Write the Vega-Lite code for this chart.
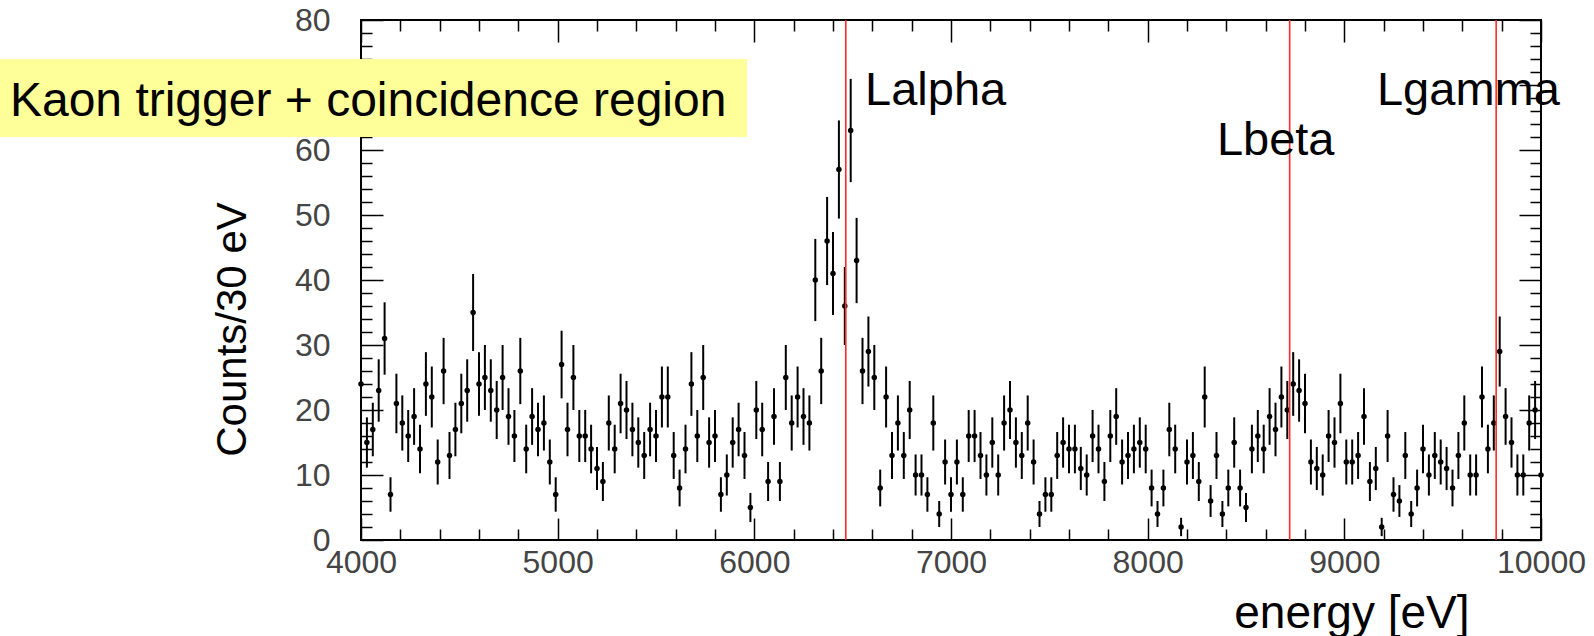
{
"$schema": "https://vega.github.io/schema/vega-lite/v6.json",
"width": 1180, "height": 520,
"autosize": {"type": "none"},
"padding": {"left": 361, "top": 20, "right": 53, "bottom": 96},
"background": "white",
"config": {"view": {"stroke": "black", "strokeWidth": 2}, "axis": {"grid": false, "domain": false, "labelFont": "Liberation Sans", "titleFont": "Liberation Sans", "tickColor": "black", "tickWidth": 1.5, "labelFlush": false, "labelOverlap": false, "labelBound": false}},
"datasets": {
"h": [
{"E":4000,"n":24,"e":4.9},{"E":4030,"n":15,"e":3.87},{"E":4060,"n":17,"e":4.12},{"E":4090,"n":23,"e":4.8},{"E":4120,"n":31,"e":5.57},
{"E":4150,"n":7,"e":2.65},{"E":4180,"n":21,"e":4.58},{"E":4210,"n":18,"e":4.24},{"E":4240,"n":16,"e":4},{"E":4270,"n":19,"e":4.36},
{"E":4300,"n":14,"e":3.74},{"E":4330,"n":24,"e":4.9},{"E":4360,"n":22,"e":4.69},{"E":4390,"n":12,"e":3.46},{"E":4420,"n":26,"e":5.1},
{"E":4450,"n":13,"e":3.61},{"E":4480,"n":17,"e":4.12},{"E":4510,"n":21,"e":4.58},{"E":4540,"n":23,"e":4.8},{"E":4570,"n":35,"e":5.92},
{"E":4600,"n":24,"e":4.9},{"E":4630,"n":25,"e":5},{"E":4660,"n":23,"e":4.8},{"E":4690,"n":20,"e":4.47},{"E":4720,"n":25,"e":5},
{"E":4750,"n":19,"e":4.36},{"E":4780,"n":16,"e":4},{"E":4810,"n":26,"e":5.1},{"E":4840,"n":14,"e":3.74},{"E":4870,"n":19,"e":4.36},
{"E":4900,"n":17,"e":4.12},{"E":4930,"n":18,"e":4.24},{"E":4960,"n":12,"e":3.46},{"E":4990,"n":7,"e":2.65},{"E":5020,"n":27,"e":5.2},
{"E":5050,"n":17,"e":4.12},{"E":5080,"n":25,"e":5},{"E":5110,"n":16,"e":4},{"E":5140,"n":16,"e":4},{"E":5170,"n":14,"e":3.74},
{"E":5200,"n":11,"e":3.32},{"E":5230,"n":9,"e":3},{"E":5260,"n":18,"e":4.24},{"E":5290,"n":14,"e":3.74},{"E":5320,"n":21,"e":4.58},
{"E":5350,"n":20,"e":4.47},{"E":5380,"n":17,"e":4.12},{"E":5410,"n":15,"e":3.87},{"E":5440,"n":13,"e":3.61},{"E":5470,"n":17,"e":4.12},
{"E":5500,"n":16,"e":4},{"E":5530,"n":22,"e":4.69},{"E":5560,"n":22,"e":4.69},{"E":5590,"n":13,"e":3.61},{"E":5620,"n":8,"e":2.83},
{"E":5650,"n":14,"e":3.74},{"E":5680,"n":24,"e":4.9},{"E":5710,"n":16,"e":4},{"E":5740,"n":25,"e":5},{"E":5770,"n":15,"e":3.87},
{"E":5800,"n":16,"e":4},{"E":5830,"n":7,"e":2.65},{"E":5860,"n":10,"e":3.16},{"E":5890,"n":15,"e":3.87},{"E":5920,"n":17,"e":4.12},
{"E":5950,"n":13,"e":3.61},{"E":5980,"n":5,"e":2.24},{"E":6010,"n":20,"e":4.47},{"E":6040,"n":17,"e":4.12},{"E":6070,"n":9,"e":3},
{"E":6100,"n":19,"e":4.36},{"E":6130,"n":9,"e":3},{"E":6160,"n":25,"e":5},{"E":6190,"n":18,"e":4.24},{"E":6220,"n":22,"e":4.69},
{"E":6250,"n":19,"e":4.36},{"E":6280,"n":18,"e":4.24},{"E":6310,"n":40,"e":6.32},{"E":6340,"n":26,"e":5.1},{"E":6370,"n":46,"e":6.78},
{"E":6400,"n":41,"e":6.4},{"E":6430,"n":57,"e":7.55},{"E":6460,"n":36,"e":6},{"E":6490,"n":63,"e":7.94},{"E":6520,"n":43,"e":6.56},
{"E":6550,"n":26,"e":5.1},{"E":6580,"n":29,"e":5.39},{"E":6610,"n":25,"e":5},{"E":6640,"n":8,"e":2.83},{"E":6670,"n":22,"e":4.69},
{"E":6700,"n":13,"e":3.61},{"E":6730,"n":18,"e":4.24},{"E":6760,"n":13,"e":3.61},{"E":6790,"n":20,"e":4.47},{"E":6820,"n":10,"e":3.16},
{"E":6850,"n":10,"e":3.16},{"E":6880,"n":7,"e":2.65},{"E":6910,"n":18,"e":4.24},{"E":6940,"n":4,"e":2},{"E":6970,"n":12,"e":3.46},
{"E":7000,"n":7,"e":2.65},{"E":7030,"n":12,"e":3.46},{"E":7060,"n":7,"e":2.65},{"E":7090,"n":16,"e":4},{"E":7120,"n":16,"e":4},
{"E":7150,"n":13,"e":3.61},{"E":7180,"n":10,"e":3.16},{"E":7210,"n":15,"e":3.87},{"E":7240,"n":10,"e":3.16},{"E":7270,"n":18,"e":4.24},
{"E":7300,"n":20,"e":4.47},{"E":7330,"n":15,"e":3.87},{"E":7360,"n":13,"e":3.61},{"E":7390,"n":18,"e":4.24},{"E":7420,"n":12,"e":3.46},
{"E":7450,"n":4,"e":2},{"E":7480,"n":7,"e":2.65},{"E":7510,"n":7,"e":2.65},{"E":7540,"n":13,"e":3.61},{"E":7570,"n":15,"e":3.87},
{"E":7600,"n":14,"e":3.74},{"E":7630,"n":14,"e":3.74},{"E":7660,"n":11,"e":3.32},{"E":7690,"n":10,"e":3.16},{"E":7720,"n":16,"e":4},
{"E":7750,"n":14,"e":3.74},{"E":7780,"n":9,"e":3},{"E":7810,"n":16,"e":4},{"E":7840,"n":19,"e":4.36},{"E":7870,"n":12,"e":3.46},
{"E":7900,"n":13,"e":3.61},{"E":7930,"n":14,"e":3.74},{"E":7960,"n":15,"e":3.87},{"E":7990,"n":14,"e":3.74},{"E":8020,"n":8,"e":2.83},
{"E":8050,"n":4,"e":2},{"E":8080,"n":8,"e":2.83},{"E":8110,"n":17,"e":4.12},{"E":8140,"n":14,"e":3.74},{"E":8170,"n":2,"e":1.41},
{"E":8200,"n":12,"e":3.46},{"E":8230,"n":13,"e":3.61},{"E":8260,"n":9,"e":3},{"E":8290,"n":22,"e":4.69},{"E":8320,"n":6,"e":2.45},
{"E":8350,"n":13,"e":3.61},{"E":8380,"n":4,"e":2},{"E":8410,"n":8,"e":2.83},{"E":8440,"n":15,"e":3.87},{"E":8470,"n":8,"e":2.83},
{"E":8500,"n":5,"e":2.24},{"E":8530,"n":14,"e":3.74},{"E":8560,"n":16,"e":4},{"E":8590,"n":14,"e":3.74},{"E":8620,"n":19,"e":4.36},
{"E":8650,"n":17,"e":4.12},{"E":8680,"n":22,"e":4.69},{"E":8710,"n":20,"e":4.47},{"E":8740,"n":24,"e":4.9},{"E":8770,"n":23,"e":4.8},
{"E":8800,"n":21,"e":4.58},{"E":8830,"n":12,"e":3.46},{"E":8860,"n":11,"e":3.32},{"E":8890,"n":10,"e":3.16},{"E":8920,"n":16,"e":4},
{"E":8950,"n":15,"e":3.87},{"E":8980,"n":21,"e":4.58},{"E":9010,"n":12,"e":3.46},{"E":9040,"n":12,"e":3.46},{"E":9070,"n":13,"e":3.61},
{"E":9100,"n":19,"e":4.36},{"E":9130,"n":9,"e":3},{"E":9160,"n":11,"e":3.32},{"E":9190,"n":2,"e":1.41},{"E":9220,"n":16,"e":4},
{"E":9250,"n":7,"e":2.65},{"E":9280,"n":6,"e":2.45},{"E":9310,"n":13,"e":3.61},{"E":9340,"n":4,"e":2},{"E":9370,"n":8,"e":2.83},
{"E":9400,"n":14,"e":3.74},{"E":9430,"n":10,"e":3.16},{"E":9460,"n":13,"e":3.61},{"E":9490,"n":12,"e":3.46},{"E":9520,"n":11,"e":3.32},
{"E":9550,"n":8,"e":2.83},{"E":9580,"n":13,"e":3.61},{"E":9610,"n":18,"e":4.24},{"E":9640,"n":10,"e":3.16},{"E":9670,"n":10,"e":3.16},
{"E":9700,"n":22,"e":4.69},{"E":9730,"n":14,"e":3.74},{"E":9760,"n":18,"e":4.24},{"E":9790,"n":29,"e":5.39},{"E":9820,"n":19,"e":4.36},
{"E":9850,"n":15,"e":3.87},{"E":9880,"n":10,"e":3.16},{"E":9910,"n":10,"e":3.16},{"E":9940,"n":18,"e":4.24},{"E":9970,"n":20,"e":4.47},
{"E":10000,"n":10,"e":3.16}
],
"lines": [{"line":"Lalpha","E":6465},{"line":"Lbeta","E":8722},{"line":"Lgamma","E":9772}],
"one": [{"k": 1}]
},
"data": {"name": "h"},
"resolve": {"axis": {"x": "independent", "y": "independent"}},
"layer": [
{"mark": {"type": "errorbar", "color": "black", "thickness": 2},
 "encoding": {"x": {"field": "E", "type": "quantitative", "axis": null, "scale": {"domain": [4000, 10000], "nice": false, "zero": false}},
  "y": {"field": "n", "type": "quantitative", "axis": null, "scale": {"domain": [0, 80], "nice": false}},
  "yError": {"field": "e"}}},
{"mark": {"type": "point", "filled": true, "size": 30, "color": "black", "opacity": 1},
 "encoding": {"x": {"field": "E", "type": "quantitative", "scale": {"domain": [4000, 10000], "nice": false, "zero": false},
   "axis": {"orient": "bottom", "values": [4000,5000,6000,7000,8000,9000,10000], "format": "d", "tickSize": -22, "labelPadding": 29, "labelFontSize": 32, "labelColor": "#444", "title": "energy [eV]", "titleFontSize": 46, "titleFontWeight": "normal", "titleColor": "black", "titleX": 1108, "titleY": 87, "titleAlign": "right", "titleBaseline": "alphabetic"}},
  "y": {"field": "n", "type": "quantitative", "scale": {"domain": [0, 80], "nice": false},
   "axis": {"orient": "left", "values": [0,10,20,30,40,50,60,70,80], "format": "d", "tickSize": -22, "labelPadding": 53, "labelFontSize": 32, "labelColor": "#444", "title": "Counts/30 eV", "titleFontSize": 42, "titleFontWeight": "normal", "titleColor": "black", "titleX": -129, "titleY": 309, "titleAngle": -90, "titleAlign": "center", "titleBaseline": "middle"}}}},
{"mark": {"type": "point", "opacity": 0},
 "encoding": {"x": {"field": "E", "type": "quantitative", "axis": {"orient": "bottom", "values": [4200,4400,4600,4800,5200,5400,5600,5800,6200,6400,6600,6800,7200,7400,7600,7800,8200,8400,8600,8800,9200,9400,9600,9800], "tickSize": -11, "labels": false, "title": null}},
  "y": {"field": "n", "type": "quantitative", "axis": {"orient": "left", "values": [2,4,6,8,12,14,16,18,22,24,26,28,32,34,36,38,42,44,46,48,52,54,56,58,62,64,66,68,72,74,76,78], "tickSize": -11, "labels": false, "title": null}}}},
{"mark": {"type": "point", "opacity": 0},
 "encoding": {"x": {"field": "E", "type": "quantitative", "axis": {"orient": "top", "values": [4000,5000,6000,7000,8000,9000,10000], "tickSize": -22, "labels": false, "title": null}},
  "y": {"field": "n", "type": "quantitative", "axis": {"orient": "right", "values": [0,10,20,30,40,50,60,70,80], "tickSize": -22, "labels": false, "title": null}}}},
{"mark": {"type": "point", "opacity": 0},
 "encoding": {"x": {"field": "E", "type": "quantitative", "axis": {"orient": "top", "values": [4200,4400,4600,4800,5200,5400,5600,5800,6200,6400,6600,6800,7200,7400,7600,7800,8200,8400,8600,8800,9200,9400,9600,9800], "tickSize": -11, "labels": false, "title": null}},
  "y": {"field": "n", "type": "quantitative", "axis": {"orient": "right", "values": [2,4,6,8,12,14,16,18,22,24,26,28,32,34,36,38,42,44,46,48,52,54,56,58,62,64,66,68,72,74,76,78], "tickSize": -11, "labels": false, "title": null}}}},
{"data": {"name": "lines"},
 "mark": {"type": "rule", "color": "#ff2a2a", "strokeWidth": 1.6},
 "encoding": {"x": {"field": "E", "type": "quantitative", "axis": null}}},
{"data": {"name": "one"},
 "mark": {"type": "text", "text": "Lalpha", "fontSize": 47, "font": "Liberation Sans", "align": "left", "baseline": "alphabetic", "color": "black"},
 "encoding": {"x": {"datum": 6563, "axis": null}, "y": {"datum": 66.9, "axis": null}}},
{"data": {"name": "one"},
 "mark": {"type": "text", "text": "Lbeta", "fontSize": 47, "font": "Liberation Sans", "align": "left", "baseline": "alphabetic", "color": "black"},
 "encoding": {"x": {"datum": 8352, "axis": null}, "y": {"datum": 59.3, "axis": null}}},
{"data": {"name": "one"},
 "mark": {"type": "text", "text": "Lgamma", "fontSize": 47, "font": "Liberation Sans", "align": "left", "baseline": "alphabetic", "color": "black"},
 "encoding": {"x": {"datum": 9166, "axis": null}, "y": {"datum": 66.9, "axis": null}}},
{"data": {"name": "one"},
 "mark": {"type": "rect", "color": "#ffff99"},
 "encoding": {"x": {"datum": 2164, "axis": null}, "x2": {"datum": 5963}, "y": {"datum": 62, "axis": null}, "y2": {"datum": 74}}},
{"data": {"name": "one"},
 "mark": {"type": "text", "text": "Kaon trigger + coincidence region", "fontSize": 48, "font": "Liberation Sans", "align": "left", "baseline": "alphabetic", "color": "black"},
 "encoding": {"x": {"datum": 2215, "axis": null}, "y": {"datum": 65.2, "axis": null}}}
]
}
